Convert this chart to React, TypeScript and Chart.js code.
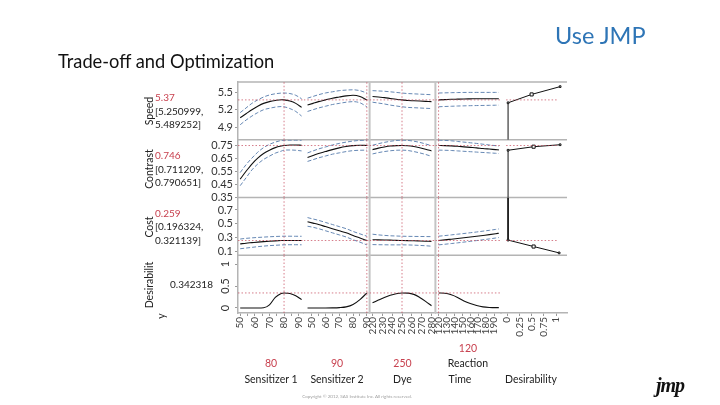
import React, { useEffect, useRef } from "react";
import { Chart, registerables } from "chart.js";
Chart.register(...registerables);

const FONT = "Lato, 'Open Sans', 'DejaVu Sans', sans-serif";
const RED = "#c8414f";

// ---------- labels ----------
const responseNames = ["Speed", "Contrast", "Cost", "Desirabilit", "y"];
const factorNames = ["Sensitizer 1", "Sensitizer 2", "Dye", "Reaction", "Time", "Desirability"];
const factorCurrent = [80, 90, 250, 120];
const factorCurrentText = ["80", "90", "250", "120"];
const predicted = [5.37, 0.746, 0.259, 0.342318];
const predictedText = ["5.37", "0.746", "0.259"];
const ciLowText = ["5.250999", "0.711209", "0.196324"];
const ciHighText = ["5.489252", "0.790651", "0.321139"];
const desirText = "0.342318";

// ---------- axes ----------
const xMin = [48.5, 44.3, 217, 116, -0.12];
const xMax = [93.5, 92, 284, 199, 1.22];
const xTicks = [
  [50, 55, 60, 65, 70, 75, 80, 85, 90],
  [50, 55, 60, 65, 70, 75, 80, 85, 90],
  [220, 230, 240, 250, 260, 270, 280],
  [120, 130, 140, 150, 160, 170, 180, 190],
  [0, 0.25, 0.5, 0.75, 1],
];
const yMin = [4.68, 0.35, 0.046, -0.114];
const yMax = [5.68, 0.79, 0.88, 1.2];
const yTicks = [
  [4.9, 5.2, 5.5],
  [0.35, 0.45, 0.55, 0.65, 0.75],
  [0.1, 0.3, 0.5, 0.7],
  [0, 0.5, 1],
];
const desirSpan = [-0.02, 1.04];

// ---------- Sensitizer 1 ----------
const s1X = [50, 54, 58, 62, 66, 70, 74, 78, 80, 84, 88, 92];
const s1SpeedMid = [5.06, 5.13, 5.2, 5.26, 5.31, 5.34, 5.36, 5.372, 5.37, 5.35, 5.31, 5.24];
const s1SpeedHi = [5.15, 5.23, 5.31, 5.37, 5.42, 5.455, 5.476, 5.488, 5.489, 5.48, 5.45, 5.39];
const s1SpeedLo = [4.94, 5.02, 5.09, 5.15, 5.2, 5.225, 5.245, 5.255, 5.251, 5.22, 5.17, 5.09];
const s1ContrastMid = [0.49, 0.55, 0.605, 0.65, 0.685, 0.71, 0.73, 0.742, 0.746, 0.75, 0.75, 0.748];
const s1ContrastHi = [0.54, 0.6, 0.65, 0.695, 0.73, 0.755, 0.772, 0.784, 0.787, 0.787, 0.787, 0.786];
const s1ContrastLo = [0.44, 0.5, 0.56, 0.605, 0.64, 0.665, 0.688, 0.703, 0.711, 0.712, 0.71, 0.705];
const s1CostMid = [0.21, 0.22, 0.228, 0.236, 0.243, 0.249, 0.254, 0.258, 0.259, 0.26, 0.26, 0.26];
const s1CostHi = [0.28, 0.29, 0.297, 0.303, 0.308, 0.313, 0.317, 0.32, 0.321, 0.321, 0.32, 0.32];
const s1CostLo = [0.14, 0.15, 0.16, 0.17, 0.178, 0.185, 0.19, 0.195, 0.196, 0.198, 0.198, 0.197];
const s1Desir = [0, 0, 0, 0, 0.005, 0.07, 0.24, 0.33, 0.342, 0.33, 0.28, 0.19];

// ---------- Sensitizer 2 ----------
const s2X = [47, 51, 55, 60, 65, 70, 75, 80, 85, 90];
const s2SpeedMid = [5.28, 5.31, 5.34, 5.37, 5.4, 5.42, 5.44, 5.45, 5.43, 5.37];
const s2SpeedHi = [5.4, 5.43, 5.46, 5.49, 5.51, 5.53, 5.54, 5.545, 5.53, 5.489];
const s2SpeedLo = [5.17, 5.2, 5.23, 5.26, 5.29, 5.31, 5.33, 5.34, 5.32, 5.251];
const s2ContrastMid = [0.655, 0.67, 0.685, 0.7, 0.715, 0.728, 0.738, 0.745, 0.748, 0.746];
const s2ContrastHi = [0.69, 0.705, 0.72, 0.735, 0.75, 0.762, 0.772, 0.78, 0.785, 0.787];
const s2ContrastLo = [0.625, 0.638, 0.652, 0.666, 0.68, 0.69, 0.7, 0.707, 0.71, 0.711];
const s2CostMid = [0.53, 0.51, 0.49, 0.46, 0.43, 0.4, 0.37, 0.33, 0.295, 0.259];
const s2CostHi = [0.59, 0.57, 0.55, 0.52, 0.49, 0.46, 0.43, 0.39, 0.355, 0.321];
const s2CostLo = [0.465, 0.45, 0.43, 0.4, 0.37, 0.34, 0.31, 0.27, 0.235, 0.196];
const s2Desir = [0, 0, 0, 0, 0.002, 0.008, 0.025, 0.08, 0.19, 0.342];

// ---------- Dye ----------
const dyeX = [220, 226, 232, 238, 244, 250, 256, 262, 268, 274, 280];
const dyeSpeedMid = [5.43, 5.42, 5.41, 5.395, 5.38, 5.37, 5.36, 5.355, 5.35, 5.345, 5.34];
const dyeSpeedHi = [5.53, 5.525, 5.52, 5.51, 5.5, 5.489, 5.48, 5.475, 5.47, 5.465, 5.46];
const dyeSpeedLo = [5.33, 5.315, 5.3, 5.28, 5.265, 5.251, 5.24, 5.235, 5.23, 5.225, 5.22];
const dyeContrastMid = [0.715, 0.726, 0.735, 0.742, 0.745, 0.746, 0.744, 0.738, 0.729, 0.718, 0.705];
const dyeContrastHi = [0.748, 0.76, 0.77, 0.778, 0.784, 0.787, 0.785, 0.779, 0.77, 0.758, 0.745];
const dyeContrastLo = [0.682, 0.692, 0.7, 0.706, 0.71, 0.711, 0.708, 0.7, 0.69, 0.678, 0.664];
const dyeCostMid = [0.27, 0.268, 0.266, 0.264, 0.261, 0.259, 0.257, 0.255, 0.252, 0.249, 0.246];
const dyeCostHi = [0.35, 0.34, 0.333, 0.327, 0.324, 0.321, 0.319, 0.318, 0.317, 0.316, 0.315];
const dyeCostLo = [0.2, 0.198, 0.197, 0.196, 0.196, 0.196, 0.195, 0.192, 0.188, 0.183, 0.177];
const dyeDesir = [0.12, 0.18, 0.24, 0.29, 0.325, 0.342, 0.338, 0.31, 0.24, 0.15, 0.05];

// ---------- Reaction Time ----------
const rtX = [120, 128, 136, 144, 152, 160, 168, 176, 184, 192, 196];
const rtSpeedMid = [5.37, 5.375, 5.38, 5.383, 5.386, 5.388, 5.39, 5.39, 5.39, 5.39, 5.39];
const rtSpeedHi = [5.489, 5.492, 5.495, 5.497, 5.499, 5.5, 5.5, 5.5, 5.5, 5.5, 5.5];
const rtSpeedLo = [5.251, 5.256, 5.26, 5.264, 5.267, 5.27, 5.272, 5.274, 5.276, 5.278, 5.28];
const rtContrastMid = [0.746, 0.745, 0.743, 0.74, 0.736, 0.732, 0.728, 0.723, 0.719, 0.715, 0.713];
const rtContrastHi = [0.787, 0.785, 0.782, 0.777, 0.772, 0.767, 0.762, 0.756, 0.75, 0.745, 0.742];
const rtContrastLo = [0.711, 0.71, 0.708, 0.705, 0.702, 0.699, 0.696, 0.693, 0.69, 0.687, 0.685];
const rtCostMid = [0.259, 0.268, 0.278, 0.288, 0.298, 0.309, 0.32, 0.332, 0.344, 0.357, 0.364];
const rtCostHi = [0.321, 0.33, 0.34, 0.35, 0.36, 0.371, 0.382, 0.394, 0.406, 0.419, 0.426];
const rtCostLo = [0.196, 0.205, 0.215, 0.225, 0.236, 0.247, 0.258, 0.27, 0.282, 0.295, 0.302];
const rtDesir = [0.342, 0.335, 0.3, 0.24, 0.16, 0.1, 0.055, 0.025, 0.012, 0.008, 0.008];

// ---------- Desirability functions ----------
const dfSpeedD = [0.02, 0.02, 0.5, 1.08];
const dfSpeedY = [4.68, 5.32, 5.465, 5.6];
const dfContrastD = [0.02, 0.02, 0.54, 1.08];
const dfContrastY = [0.35, 0.71, 0.737, 0.752];
const dfCostD = [0.02, 0.02, 0.54, 1.06];
const dfCostY = [0.88, 0.265, 0.172, 0.08];
const dfMarkerRadius = [0, 1.2, 2.2, 1.2];

const profiles = [
  { x: s1X, rows: [[s1SpeedMid, s1SpeedHi, s1SpeedLo], [s1ContrastMid, s1ContrastHi, s1ContrastLo], [s1CostMid, s1CostHi, s1CostLo]], desir: s1Desir },
  { x: s2X, rows: [[s2SpeedMid, s2SpeedHi, s2SpeedLo], [s2ContrastMid, s2ContrastHi, s2ContrastLo], [s2CostMid, s2CostHi, s2CostLo]], desir: s2Desir },
  { x: dyeX, rows: [[dyeSpeedMid, dyeSpeedHi, dyeSpeedLo], [dyeContrastMid, dyeContrastHi, dyeContrastLo], [dyeCostMid, dyeCostHi, dyeCostLo]], desir: dyeDesir },
  { x: rtX, rows: [[rtSpeedMid, rtSpeedHi, rtSpeedLo], [rtContrastMid, rtContrastHi, rtContrastLo], [rtCostMid, rtCostHi, rtCostLo]], desir: rtDesir },
];
const desirFns = [
  [dfSpeedD, dfSpeedY],
  [dfContrastD, dfContrastY],
  [dfCostD, dfCostY],
];

const pts = (xs: number[], ys: number[]) => xs.map((x, i) => ({ x, y: ys[i] }));

function buildDatasets() {
  const ds: any[] = [];
  const MEAN = { borderColor: "#111111", borderWidth: 1.1 };
  const CI = { borderColor: "#6688b4", borderWidth: 1, borderDash: [4, 2] };
  const REF = { borderColor: "rgba(196,70,88,0.7)", borderWidth: 1, borderDash: [1.5, 2] };
  const mk = (data: any[], c: number, r: number, style: any, extra: any = {}) => ({
    data,
    xAxisID: "x" + c,
    yAxisID: "y" + r,
    pointRadius: 0,
    fill: false,
    cubicInterpolationMode: "monotone",
    ...style,
    ...extra,
  });
  for (let r = 0; r < 4; r++) {
    for (let c = 0; c < 5; c++) {
      if (r === 3 && c === 4) continue;
      const xa = c === 4 ? desirSpan[0] : xMin[c];
      const xb = c === 4 ? desirSpan[1] : xMax[c];
      ds.push(mk([{ x: xa, y: predicted[r] }, { x: xb, y: predicted[r] }], c, r, REF, { tension: 0, cubicInterpolationMode: "default" }));
    }
  }
  for (let c = 0; c < 4; c++) {
    for (let r = 0; r < 4; r++) {
      ds.push(mk([{ x: factorCurrent[c], y: yMin[r] }, { x: factorCurrent[c], y: yMax[r] }], c, r, REF, { tension: 0, cubicInterpolationMode: "default" }));
    }
  }
  profiles.forEach((p, c) => {
    p.rows.forEach((row, r) => {
      ds.push(mk(pts(p.x, row[1]), c, r, CI));
      ds.push(mk(pts(p.x, row[2]), c, r, CI));
      ds.push(mk(pts(p.x, row[0]), c, r, MEAN));
    });
    ds.push(mk(pts(p.x, p.desir), c, 3, MEAN));
  });
  desirFns.forEach(([d, y], r) => {
    ds.push(
      mk(pts(d, y), 4, r, { borderColor: "#111111", borderWidth: 1 }, {
        tension: 0,
        cubicInterpolationMode: "default",
        pointRadius: dfMarkerRadius,
        pointStyle: "rect",
        pointBackgroundColor: "#ffffff",
        pointBorderColor: "#111111",
        pointBorderWidth: 1,
      })
    );
  });
  return ds;
}

const framePlugin = {
  id: "profilerFrame",
  beforeDatasetsDraw(chart: any) {
    const { ctx, chartArea: a, scales } = chart;
    ctx.save();
    ctx.strokeStyle = "#b4b4b4";
    ctx.lineWidth = 1.5;
    const seg = (x1: number, y1: number, x2: number, y2: number) => {
      ctx.beginPath();
      ctx.moveTo(x1, y1);
      ctx.lineTo(x2, y2);
      ctx.stroke();
    };
    seg(a.left, a.top, a.right, a.top);
    for (let r = 0; r < 3; r++) {
      const y = scales["y" + r].bottom;
      seg(a.left, y, a.right, y);
    }
    ctx.strokeStyle = "#c4c4c4";
    ctx.lineWidth = 2;
    [1, 2].forEach((c) => {
      const x = scales["x" + c].right;
      seg(x, a.top, x, a.bottom);
    });
    ctx.restore();
  },
};

function buildScales() {
  const scales: any = {};
  for (let r = 0; r < 4; r++) {
    scales["y" + r] = {
      type: "linear",
      axis: "y",
      position: "left",
      stack: "rows",
      stackWeight: 1,
      weight: 4 - r,
      min: yMin[r],
      max: yMax[r],
      afterBuildTicks: (s: any) => {
        s.ticks = yTicks[r].map((v) => ({ value: v }));
      },
      afterFit: (s: any) => {
        s.width = 30;
      },
      grid: { display: true, drawOnChartArea: false, drawTicks: true, tickLength: 3, color: "#9a9a9a" },
      border: { display: true, color: "#b4b4b4", width: 1.5 },
      ticks: {
        font: { family: FONT, size: 11 },
        color: "#333",
        padding: 2,
        autoSkip: false,
        callback: (v: any) => String(v),
        ...(r === 3 ? { minRotation: 90, maxRotation: 90, crossAlign: "center" } : {}),
      },
    };
  }
  for (let c = 0; c < 5; c++) {
    scales["x" + c] = {
      type: "linear",
      axis: "x",
      position: "bottom",
      stack: "cols",
      stackWeight: 1,
      weight: c,
      min: xMin[c],
      max: xMax[c],
      afterBuildTicks: (s: any) => {
        s.ticks = xTicks[c].map((v) => ({ value: v }));
      },
      afterFit: (s: any) => {
        s.height = 40;
      },
      grid: { display: true, drawOnChartArea: false, drawTicks: true, tickLength: 3, color: "#9a9a9a" },
      border: { display: true, color: "#b4b4b4", width: 1.5 },
      ticks: {
        font: { family: FONT, size: 10 },
        color: "#444",
        padding: 1,
        minRotation: 90,
        maxRotation: 90,
        autoSkip: false,
        callback: (v: any) => (c < 2 && v % 10 !== 0 ? "" : String(v)),
      },
    };
  }
  return scales;
}

type TP = { x: number; y: number; s: number; t: string; c?: string; a?: "left" | "center" | "right"; w?: number; st?: any };
const Txt = ({ x, y, s, t, c = "#222", a = "left", w = 400, st = {} }: TP) => {
  const left = a === "left" ? x : a === "center" ? x - w / 2 : x - w;
  return (
    <div
      style={{
        position: "absolute",
        left,
        top: y - 0.887 * s,
        width: w,
        textAlign: a,
        fontSize: s,
        lineHeight: `${s}px`,
        color: c,
        whiteSpace: "nowrap",
        fontFamily: FONT,
        ...st,
      }}
    >
      {t}
    </div>
  );
};
const VTxt = ({ cx, cy, s, t, c = "#222" }: { cx: number; cy: number; s: number; t: string; c?: string }) => (
  <div
    style={{
      position: "absolute",
      left: cx,
      top: cy,
      transform: "translate(-50%,-50%) rotate(-90deg)",
      fontSize: s,
      lineHeight: 1,
      color: c,
      whiteSpace: "nowrap",
      fontFamily: FONT,
    }}
  >
    {t}
  </div>
);

const rowCenters = [111, 169, 226.5, 284];
const colCenters = [271, 337, 402.5, 468, 531];

export default function App() {
  const ref = useRef<HTMLCanvasElement>(null);
  useEffect(() => {
    const chart = new Chart(ref.current as HTMLCanvasElement, {
      type: "line",
      data: { datasets: buildDatasets() },
      options: {
        responsive: false,
        maintainAspectRatio: false,
        animation: false,
        layout: { padding: { left: 208, right: 153, top: 82, bottom: 52 } },
        plugins: { legend: { display: false }, tooltip: { enabled: false } },
        elements: { point: { radius: 0 } },
        scales: buildScales(),
      } as any,
      plugins: [framePlugin],
    });
    return () => chart.destroy();
  }, []);

  return (
    <div style={{ position: "fixed", left: 0, top: 0, width: 720, height: 405, background: "#fff", overflow: "hidden" }}>
      <canvas ref={ref} width={720} height={405} style={{ position: "absolute", left: 0, top: 0, width: 720, height: 405 }} />
      <Txt x={58} y={68} s={18.3} t="Trade-off and Optimization" c="#111" />
      <Txt x={555} y={45} s={23.5} t="Use JMP" c="#2e75b6" />

      {[0, 1, 2].map((r) => (
        <React.Fragment key={r}>
          <VTxt cx={149} cy={rowCenters[r]} s={10.5} t={responseNames[r]} />
          <Txt x={155} y={rowCenters[r] - 13.5 + 3.6} s={10} t={predictedText[r]} c={RED} />
          <Txt x={155} y={rowCenters[r] + 3.6} s={10} t={"[" + ciLowText[r] + ","} />
          <Txt x={155} y={rowCenters[r] + 13.5 + 3.6} s={10} t={ciHighText[r] + "]"} />
        </React.Fragment>
      ))}
      <VTxt cx={149} cy={285} s={10.5} t={responseNames[3]} />
      <VTxt cx={161} cy={316} s={10.5} t={responseNames[4]} />
      <Txt x={170} y={rowCenters[3] + 3.6} s={10} t={desirText} />

      <Txt x={colCenters[0]} y={367} s={10.5} t={factorCurrentText[0]} c={RED} a="center" w={80} />
      <Txt x={colCenters[1]} y={367} s={10.5} t={factorCurrentText[1]} c={RED} a="center" w={80} />
      <Txt x={colCenters[2]} y={367} s={10.5} t={factorCurrentText[2]} c={RED} a="center" w={80} />
      <Txt x={colCenters[3]} y={352} s={10.5} t={factorCurrentText[3]} c={RED} a="center" w={80} />
      <Txt x={colCenters[0]} y={383} s={10.5} t={factorNames[0]} a="center" w={80} />
      <Txt x={colCenters[1]} y={383} s={10.5} t={factorNames[1]} a="center" w={80} />
      <Txt x={colCenters[2]} y={383} s={10.5} t={factorNames[2]} a="center" w={80} />
      <Txt x={colCenters[3]} y={367} s={10.5} t={factorNames[3]} a="center" w={80} />
      <Txt x={448.5} y={383} s={10.5} t={factorNames[4]} />
      <Txt x={colCenters[4]} y={383} s={10.5} t={factorNames[5]} a="center" w={80} />

      <Txt x={357} y={399} s={4.5} t="Copyright © 2012, SAS Institute Inc. All rights reserved." c="#a0a0a0" a="center" w={200} />
      <Txt x={656} y={393} s={20} t="jmp" c="#111" st={{ fontStyle: "italic", fontWeight: 700, fontFamily: "'Liberation Serif', serif", letterSpacing: -1 }} />
    </div>
  );
}
